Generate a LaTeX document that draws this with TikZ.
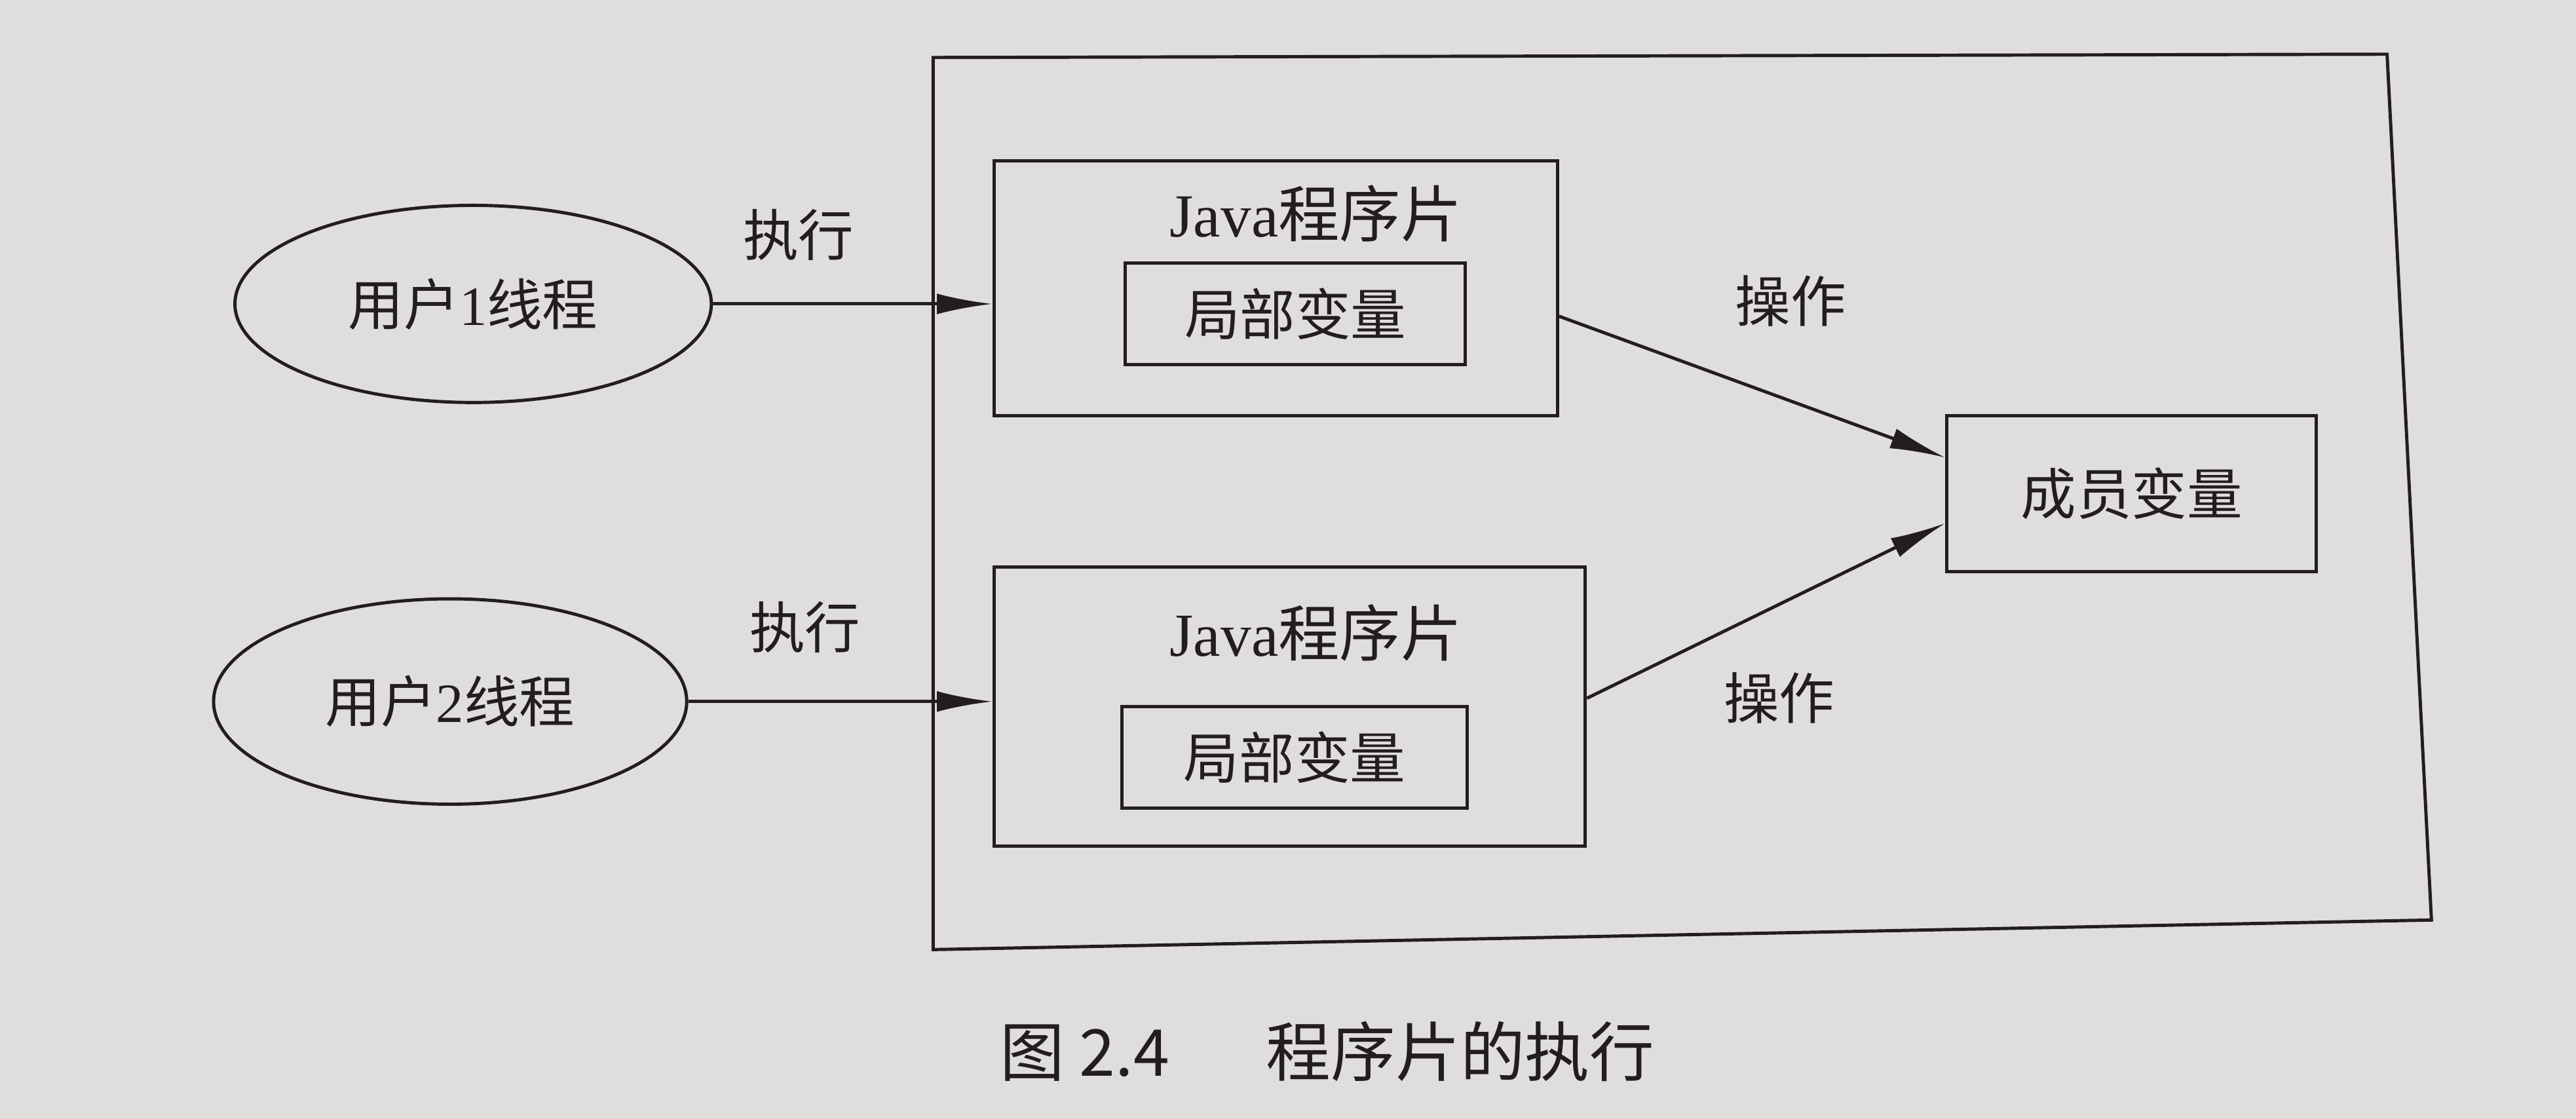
\documentclass[tikz,border=0pt]{standalone}
\usepackage{fontspec}
\setmainfont{Liberation Serif}
\newfontfamily\cjk{Noto Sans CJK SC}
\usetikzlibrary{shapes.geometric,arrows.meta,calc}
\definecolor{paper}{RGB}{224,222,220}
\definecolor{ink}{RGB}{35,30,30}
\begin{document}
\begin{tikzpicture}[x=0.025cm,y=-0.025cm,
  line width=1.4pt, draw=ink, text=ink,
  txt/.style={font=\cjk\fontsize{24}{28}\selectfont, inner sep=0pt},
  ttl/.style={font=\cjk\fontsize{26.5}{30}\selectfont, inner sep=0pt},
  ell/.style={draw=ink, ellipse, inner sep=0pt, font=\cjk\fontsize{24}{28}\selectfont},
  boxa/.style={draw=ink, rectangle, inner sep=0pt},
  arr/.style={draw=ink, -{Latex[length=24pt,width=9pt]}}]
\fill[paper] (0,0) rectangle (1568,681);
\useasboundingbox (0,0) rectangle (1568,681);
% outer container
\draw[ink] (568,35) -- (1453,33) -- (1480,560) -- (568,578) -- cycle;
% ellipses
\node[ell, minimum width=290*0.025cm, minimum height=120*0.025cm] (e1) at (288,185) {用户{\rmfamily 1}线程};
\node[ell, minimum width=288*0.025cm, minimum height=125*0.025cm] (e2) at (274,427) {用户{\rmfamily 2}线程};
% applet boxes
\node[boxa, minimum width=343*0.025cm, minimum height=155*0.025cm] (b1) at (776.5,175.5) {};
\node[boxa, minimum width=360*0.025cm, minimum height=170*0.025cm] (b2) at (785,430) {};
\node[ttl] (t1) at (801,130) {{\rmfamily Java}程序片};
\node[ttl] (t2) at (801,385) {{\rmfamily Java}程序片};
\node[boxa, txt, draw=ink, minimum width=207*0.025cm, minimum height=62*0.025cm] (l1) at (788.5,191) {局部变量};
\node[boxa, txt, draw=ink, minimum width=210*0.025cm, minimum height=62*0.025cm] (l2) at (788,461) {局部变量};
% member variable
\node[boxa, txt, draw=ink, minimum width=225*0.025cm, minimum height=95*0.025cm] (m) at (1297.5,300.5) {成员变量};
% arrows
\draw[arr] (e1.east) -- (e1.east -| b1.west);
\draw[arr] (e2.east) -- (e2.east -| b2.west);
\draw[arr] ($(b1.east)+(0,17)$) -- ($(m.west)+(0,-22)$);
\draw[arr] ($(b2.east)+(0,-5)$) -- ($(m.west)+(0,18)$);
% labels
\node[txt] (x1) at (486,143) {执行};
\node[txt] (x2) at (490,382) {执行};
\node[txt] (o1) at (1090,183) {操作};
\node[txt] (o2) at (1083,425) {操作};
% caption
\node[inner sep=0pt, font=\cjk\fontsize{28}{32}\selectfont] (cap) at (808,640) {图 2.4\hspace{1.5em}程序片的执行};
\end{tikzpicture}
\end{document}
